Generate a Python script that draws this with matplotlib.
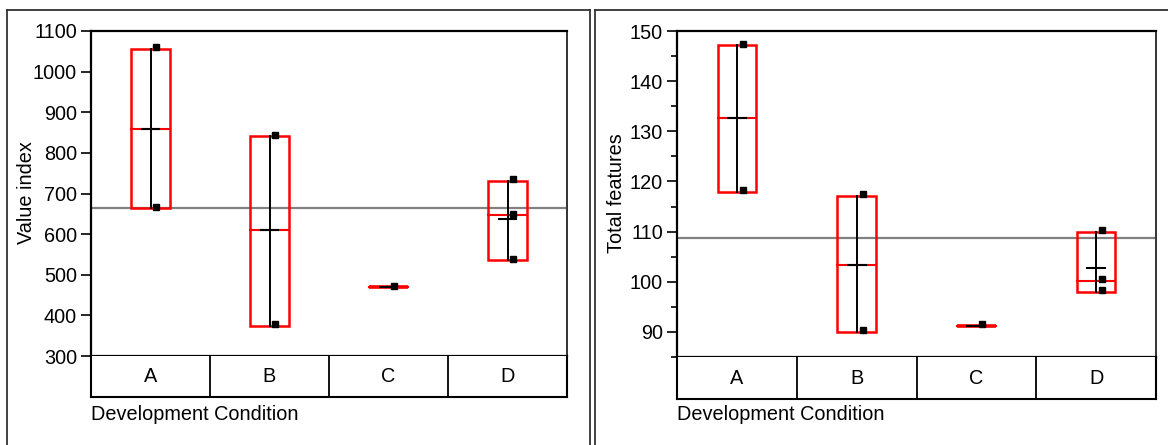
import matplotlib
matplotlib.use('Agg')
import matplotlib.pyplot as plt
from matplotlib.lines import Line2D
from matplotlib.patches import Rectangle
from matplotlib.ticker import MultipleLocator

plt.rcParams['font.family'] = ['Liberation Sans', 'DejaVu Sans']

groups = ['A', 'B', 'C', 'D']

# left panel: value index
value_points = [[1060, 668], [845, 379], [472], [735, 650, 540]]
value_box_lo = [664, 375, 469, 536]
value_box_hi = [1055, 841, 469, 731]
value_median = [860, 610, 469, 646]
value_mean = [860, 610, 469, 638]
value_grand = 664

# right panel: total features
feat_points = [[147.5, 118.2], [117.5, 90.3], [91.6], [110.4, 100.5, 98.3]]
feat_box_lo = [117.8, 90.0, 91.2, 98.0]
feat_box_hi = [147.2, 117.2, 91.2, 110.0]
feat_median = [132.6, 103.4, 91.2, 100.1]
feat_mean = [132.6, 103.4, 91.2, 102.8]
feat_grand = 108.8

W, H = 1168, 445
fig = plt.figure(figsize=(W / 100, H / 100), dpi=100)
FS = 14.3


def px(x0, y0, x1, y1):
    return [x0 / W, 1 - y1 / H, (x1 - x0) / W, (y1 - y0) / H]


def panel(x0, x1, ytop, ybot, tbot, points, lo, hi, med, mean, grand, ylim, yticks, minor, ylabel, ylab_x):
    ax = fig.add_axes(px(x0, ytop, x1, ybot))
    ax.set_xlim(0, len(groups))
    ax.set_ylim(*ylim)
    ax.set_xticks([])
    ax.set_yticks(yticks)
    if minor:
        ax.yaxis.set_minor_locator(MultipleLocator(minor))
        ax.tick_params(axis='y', which='minor', length=4.5, width=1.2)
    ax.tick_params(axis='y', which='major', length=7, width=1.2, pad=3, labelsize=FS)
    for s in ['left', 'top', 'bottom']:
        ax.spines[s].set_linewidth(1.6)
        ax.spines[s].set_color('black')
    ax.spines['right'].set_linewidth(1.4)
    ax.spines['right'].set_color('#333333')

    ax.axhline(grand, color='#808080', lw=1.6, zorder=1)
    bw = 0.32
    for i in range(len(groups)):
        c = i + 0.5
        flat = hi[i] == lo[i]
        ax.add_patch(Rectangle((c - bw / 2, lo[i]), bw, hi[i] - lo[i], fill=False,
                               edgecolor='#ff0000', lw=2.6 if flat else 1.8, zorder=2))
        ax.plot([c - bw / 2, c + bw / 2], [med[i], med[i]], color='#ff0000', lw=1.5, zorder=2)
        ax.plot([c, c], [lo[i], hi[i]], color='black', lw=1.4, zorder=3)
        ax.plot([c - 0.075, c + 0.075], [mean[i], mean[i]], color='black', lw=1.5, zorder=3)
        ax.plot([c + 0.05] * len(points[i]), points[i], 's', color='black', ms=4, zorder=4)

    # category table below the plot
    tab = fig.add_axes(px(x0, ybot, x1, tbot))
    tab.set_xlim(0, len(groups))
    tab.set_ylim(0, 1)
    tab.set_xticks([])
    tab.set_yticks([])
    for s in tab.spines.values():
        s.set_linewidth(1.5)
        s.set_color('black')
    tab.spines['top'].set_visible(False)
    for i, g in enumerate(groups):
        if i > 0:
            tab.axvline(i, color='black', lw=1.3)
        tab.text(i + 0.5, 0.5, g, ha='center', va='center', fontsize=FS)

    fig.text(x0 / W, 1 - 415 / H, 'Development Condition', ha='left', va='center', fontsize=FS)
    fig.text(ylab_x / W, 1 - 193 / H, ylabel, rotation=90, ha='center', va='center', fontsize=FS)
    return ax


panel(91, 567, 31, 356, 397, value_points, value_box_lo, value_box_hi, value_median, value_mean,
      value_grand, (300, 1100), range(300, 1101, 100), None, 'Value index', 27)
panel(677, 1156, 31, 357, 399, feat_points, feat_box_lo, feat_box_hi, feat_median, feat_mean,
      feat_grand, (85, 150), range(90, 151, 10), 5, 'Total features', 616)

# outer frames around each report
fc = '#333333'
for xs, ys in [([7, 7], [10, H]), ([7, 590], [10, 10]), ([590, 590], [10, H]),
               ([595, 595], [10, H]), ([595, W], [10, 10])]:
    fig.add_artist(Line2D([x / W for x in xs], [1 - y / H for y in ys], color=fc, lw=1.3))

fig.savefig('out.png', dpi=100)
